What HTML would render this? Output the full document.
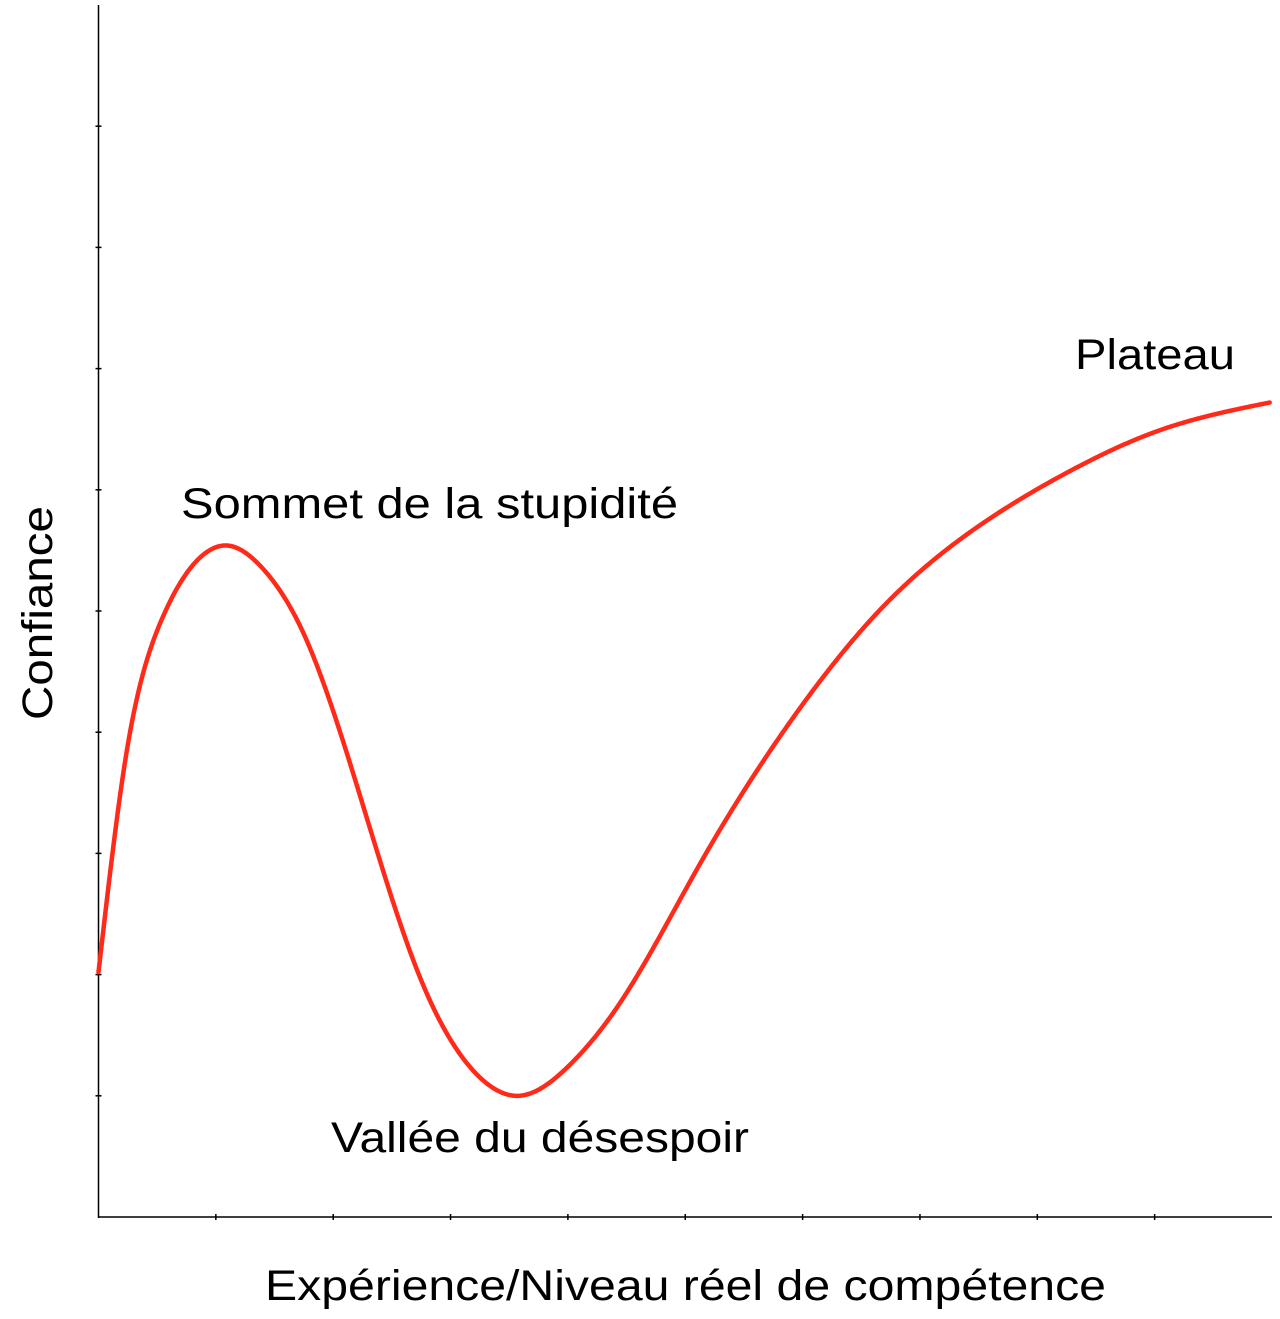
<!DOCTYPE html>
<html><head><meta charset="utf-8"><style>
html,body{margin:0;padding:0;background:#fff;}
svg{display:block;}
text{font-family:"Liberation Sans",Arial,sans-serif;fill:#000;}
</style></head><body>
<svg id="chart" width="1280" height="1319" viewBox="0 0 1280 1319" xmlns="http://www.w3.org/2000/svg">
<g id="axes"></g>
<path id="curve" fill="none" stroke="#ff2a1a" stroke-width="4.5" stroke-linejoin="round" stroke-linecap="round"></path>
<text x="181" y="518" font-size="43" textLength="497" lengthAdjust="spacingAndGlyphs">Sommet de la stupidité</text>
<text x="1075" y="369" font-size="43" textLength="160" lengthAdjust="spacingAndGlyphs">Plateau</text>
<text x="331" y="1152" font-size="43" textLength="418" lengthAdjust="spacingAndGlyphs">Vallée du désespoir</text>
<text x="265" y="1300" font-size="43" textLength="841" lengthAdjust="spacingAndGlyphs">Expérience/Niveau réel de compétence</text>
<text transform="translate(52,720) rotate(-90)" x="0" y="0" font-size="43" textLength="214" lengthAdjust="spacingAndGlyphs">Confiance</text>
</svg>
<script>
const xValues = [0, 0.23, 0.53, 0.90, 1.10, 1.40, 1.75, 2.24, 2.73, 3.22, 3.58, 4.00, 4.44, 5.10, 5.89, 6.68, 7.47, 8.25, 9.04, 9.98];
const yValues = [2.02, 3.78, 4.91, 5.47, 5.54, 5.35, 4.81, 3.44, 2.00, 1.18, 1.00, 1.24, 1.76, 2.87, 4.08, 5.03, 5.68, 6.14, 6.49, 6.72];
const xTicks = [1,2,3,4,5,6,7,8,9];
const yTicks = [1,2,3,4,5,6,7,8,9];
const X0=98.5, X1=1272, Y0=1217, Y1=5;
function sx(v){return X0+(X1-X0)*v/10;}
function sy(v){return Y0-(Y0-Y1)*v/10;}
const NS="http://www.w3.org/2000/svg";
const axes=document.getElementById('axes');
function line(x1,y1,x2,y2,name){
  const l=document.createElementNS(NS,'line');
  l.setAttribute('x1',x1);l.setAttribute('y1',y1);l.setAttribute('x2',x2);l.setAttribute('y2',y2);
  l.setAttribute('stroke','#000');l.setAttribute('stroke-width','1.5');
  
  
  axes.appendChild(l);
}
line(X0,Y1,X0,Y0+1,'y-axis-line');
line(X0,Y0,X1,Y0,'x-axis-line');
xTicks.forEach(t=>line(sx(t),Y0-3,sx(t),Y0+3,'x-tick'));
yTicks.forEach(t=>line(X0-3,sy(t),X0+3,sy(t),'y-tick'));
// natural cubic spline in data space
function spline(xs,ys){
  const n=xs.length, h=[], a=[], l=[1], mu=[0], z=[0], c=new Array(n).fill(0), b=[], d=[];
  for(let i=0;i<n-1;i++) h.push(xs[i+1]-xs[i]);
  for(let i=1;i<n-1;i++) a[i]=3/h[i]*(ys[i+1]-ys[i])-3/h[i-1]*(ys[i]-ys[i-1]);
  for(let i=1;i<n-1;i++){
    l[i]=2*(xs[i+1]-xs[i-1])-h[i-1]*mu[i-1];
    mu[i]=h[i]/l[i];
    z[i]=(a[i]-h[i-1]*z[i-1])/l[i];
  }
  l[n-1]=1; z[n-1]=0;
  for(let j=n-2;j>=0;j--){
    c[j]=z[j]-mu[j]*c[j+1];
    b[j]=(ys[j+1]-ys[j])/h[j]-h[j]*(c[j+1]+2*c[j])/3;
    d[j]=(c[j+1]-c[j])/(3*h[j]);
  }
  return function(x){
    let i=0; while(i<n-2 && x>xs[i+1]) i++;
    const dx=x-xs[i];
    return ys[i]+b[i]*dx+c[i]*dx*dx+d[i]*dx*dx*dx;
  };
}
const f=spline(xValues,yValues);
const xmin=xValues[0], xmax=xValues[xValues.length-1];
let d='';
const N=600;
for(let k=0;k<=N;k++){
  const x=xmin+(xmax-xmin)*k/N;
  d+=(k?' L':'M')+sx(x).toFixed(2)+','+sy(f(x)).toFixed(2);
}
document.getElementById('curve').setAttribute('d',d);
</script>
</body></html>
